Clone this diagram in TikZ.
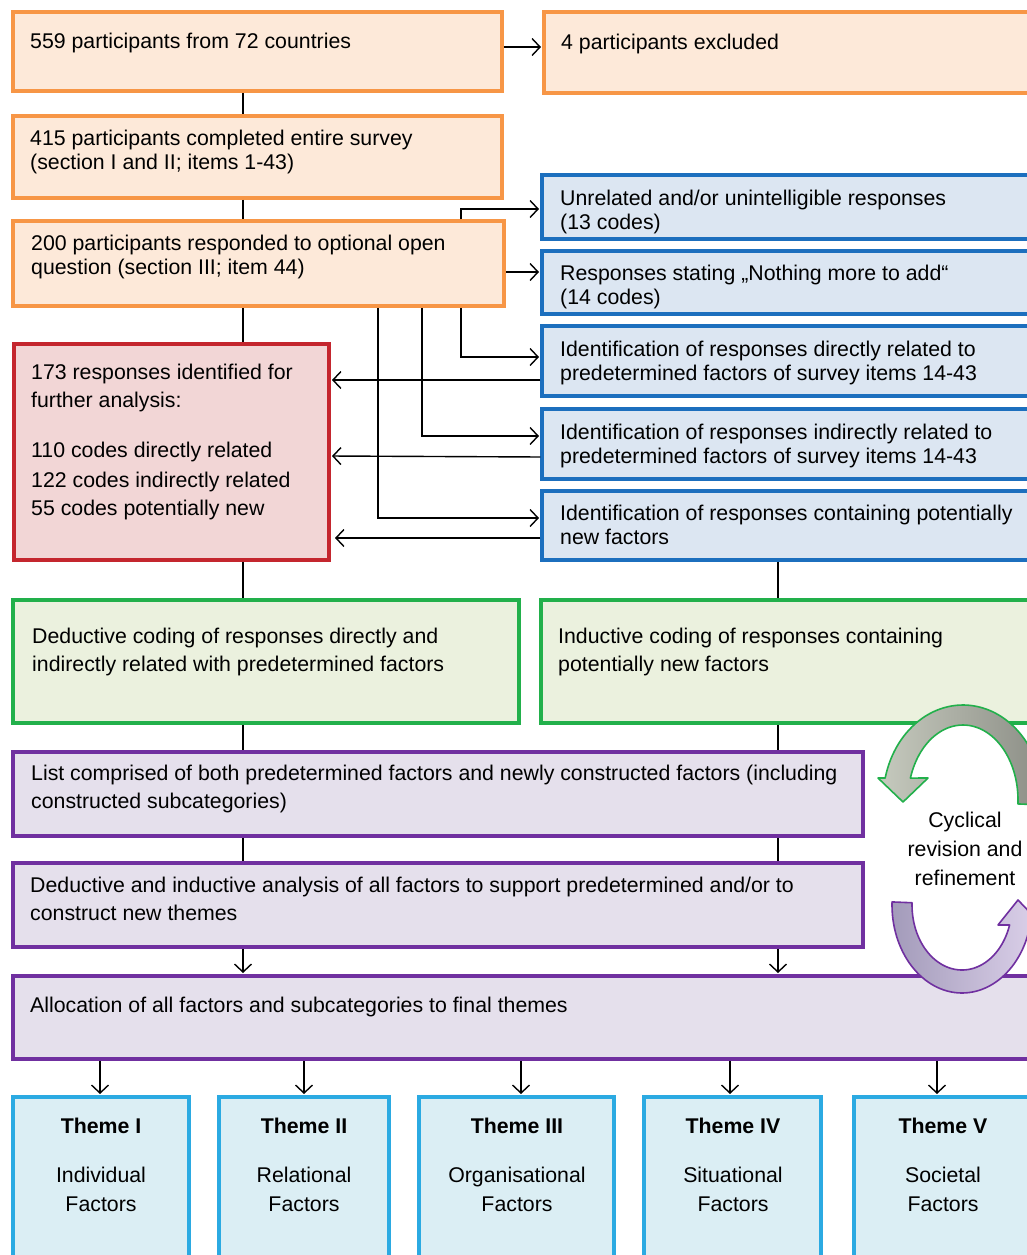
\documentclass[tikz,border=0pt]{standalone}
\usepackage{fontspec}
\setmainfont{Liberation Sans}
\usetikzlibrary{arrows.meta}
\definecolor{orB}{HTML}{F79646}
\definecolor{orF}{HTML}{FDE9D9}
\definecolor{blB}{HTML}{1C6FBE}
\definecolor{blF}{HTML}{DCE6F2}
\definecolor{rdB}{HTML}{C4262E}
\definecolor{rdF}{HTML}{F2D6D6}
\definecolor{grB}{HTML}{22B04B}
\definecolor{grF}{HTML}{EBF1DE}
\definecolor{puB}{HTML}{7030A0}
\definecolor{puF}{HTML}{E5E0EC}
\definecolor{cyB}{HTML}{2BAAE2}
\definecolor{cyF}{HTML}{DBEEF4}
\definecolor{gyL}{HTML}{C6CABE}
\definecolor{gyD}{HTML}{8C8E86}
\definecolor{ppD}{HTML}{A39BBA}
\definecolor{ppL}{HTML}{DDD2EB}
\begin{document}
\begin{tikzpicture}[x=1pt,y=-1pt,
  bx/.style={draw, line width=3.5pt, anchor=north west, inner sep=0pt, outer sep=0pt},
  obox/.style={bx, draw=orB, fill=orF},
  bbox/.style={bx, draw=blB, fill=blF},
  rbox/.style={bx, draw=rdB, fill=rdF},
  gbox/.style={bx, draw=grB, fill=grF},
  pbox/.style={bx, draw=puB, fill=puF},
  tbox/.style={bx, draw=cyB, fill=cyF},
  txt/.style={font=\fontsize{21.3}{24}\selectfont, inner sep=0pt, anchor=north west, align=left},
  txtw/.style={font=\fontsize{21.3}{28}\selectfont, inner sep=0pt, anchor=north west, align=left},
  ttxt/.style={font=\fontsize{21.3}{29}\selectfont, inner sep=0pt, anchor=base, align=center},
  conn/.style={line width=1.4pt, black, shorten <=1.75pt},
  arr/.style={conn, -{Straight Barb[length=8pt,width=17pt,line width=1.4pt]}, shorten >=3pt}
]
\useasboundingbox (0,0) rectangle (1027,1255);
\clip (0,0) rectangle (1027,1255);
\fill[white] (0,0) rectangle (1027,1255);

% boxes
\node[obox, minimum width=489pt, minimum height=79pt] (b1) at (13,12) {};
\node[obox, minimum width=501pt, minimum height=81pt] (bx) at (544,12) {};
\node[obox, minimum width=489pt, minimum height=82pt] (b2) at (13,116) {};
\node[obox, minimum width=491pt, minimum height=85pt] (b3) at (13,221) {};
\node[bbox, minimum width=503pt, minimum height=64pt] (bA) at (542,175) {};
\node[bbox, minimum width=503pt, minimum height=63pt] (bB) at (542,251) {};
\node[bbox, minimum width=503pt, minimum height=70pt] (bC) at (542,326) {};
\node[bbox, minimum width=503pt, minimum height=70pt] (bD) at (542,409) {};
\node[bbox, minimum width=503pt, minimum height=69pt] (bE) at (542,491) {};
\node[rbox, minimum width=315pt, minimum height=216pt] (rd) at (14,344) {};
\node[gbox, minimum width=506pt, minimum height=123pt] (g1) at (13,600) {};
\node[gbox, minimum width=504pt, minimum height=123pt] (g2) at (541,600) {};
\node[pbox, minimum width=850pt, minimum height=84pt] (p1) at (13,752) {};
\node[pbox, minimum width=850pt, minimum height=84pt] (p2) at (13,863) {};
\node[pbox, minimum width=1032pt, minimum height=83pt] (p3) at (13,976) {};
\node[tbox, minimum width=176pt, minimum height=180pt] (t1) at (13,1097) {};
\node[tbox, minimum width=170pt, minimum height=180pt] (t2) at (219,1097) {};
\node[tbox, minimum width=195pt, minimum height=180pt] (t3) at (419,1097) {};
\node[tbox, minimum width=177pt, minimum height=180pt] (t4) at (644,1097) {};
\node[tbox, minimum width=191pt, minimum height=180pt] (t5) at (854,1097) {};

% texts
\node[txt] (x1) at (30,31.2) {\strut 559 participants from 72 countries};
\node[txt] (xx) at (561,32.2) {\strut 4 participants excluded};
\node[txt] (x2) at (30,128.2) {\strut 415 participants completed entire survey\\(section I and II; items 1-43)};
\node[txt] (x3) at (31,233.2) {\strut 200 participants responded to optional open\\question (section III; item 44)};
\node[txt] (xA) at (560,188.2) {\strut Unrelated and/or unintelligible responses\\(13 codes)};
\node[txt] (xB) at (560,263.2) {\strut Responses stating „Nothing more to add“\\(14 codes)};
\node[txt] (xC) at (560,339.2) {\strut Identification of responses directly related to\\predetermined factors of survey items 14-43};
\node[txt] (xD) at (560,422.2) {\strut Identification of responses indirectly related to\\predetermined factors of survey items 14-43};
\node[txt] (xE) at (560,503.2) {\strut Identification of responses containing potentially\\new factors};
\node[txtw] (xr) at (31,359.4) {\strut 173 responses identified for\\further analysis:\\[22pt]110 codes directly related\\[2pt]122 codes indirectly related\\55 codes potentially new};
\node[txtw] (xg1) at (32,623.4) {\strut Deductive coding of responses directly and\\indirectly related with predetermined factors};
\node[txtw] (xg2) at (558,623.4) {\strut Inductive coding of responses containing\\potentially new factors};
\node[txtw] (xp1) at (31,760.4) {\strut List comprised of both predetermined factors and newly constructed factors (including\\constructed subcategories)};
\node[txtw] (xp2) at (30,872.4) {\strut Deductive and inductive analysis of all factors to support predetermined and/or to\\construct new themes};
\node[txt] (xp3) at (30,995.2) {\strut Allocation of all factors and subcategories to final themes};
\node[ttxt] (xt1) at (101,1211) {\textbf{Theme I}\\[20pt]Individual\\Factors};
\node[ttxt] (xt2) at (304,1211) {\textbf{Theme II}\\[20pt]Relational\\Factors};
\node[ttxt] (xt3) at (517,1211) {\textbf{Theme III}\\[20pt]Organisational\\Factors};
\node[ttxt] (xt4) at (733,1211) {\textbf{Theme IV}\\[20pt]Situational\\Factors};
\node[ttxt] (xt5) at (943,1211) {\textbf{Theme V}\\[20pt]Societal\\Factors};

% connectors
\draw[arr] (b1.east |- 0,47) -- (bx.west |- 0,47);
\draw[conn, shorten >=1.75pt] (243,0 |- b1.south) -- (243,0 |- b2.north);
\draw[conn, shorten >=1.75pt] (243,0 |- b2.south) -- (243,0 |- b3.north);
\draw[conn, shorten >=1.75pt] (243,0 |- b3.south) -- (243,0 |- rd.north);
\draw[arr] (461,0 |- b3.north) |- (bA.west |- 0,209);
\draw[arr] (b3.east |- 0,272) -- (bB.west |- 0,272);
\draw[arr] (461,0 |- b3.south) |- (bC.west |- 0,357);
\draw[arr] (422,0 |- b3.south) |- (bD.west |- 0,436);
\draw[arr] (378,0 |- b3.south) |- (bE.west |- 0,518);
\draw[arr] (bC.west |- 0,380) -- (rd.east |- 0,380);
\draw[arr] (bD.west |- 0,457) -- (rd.east |- 0,456);
\draw[arr] (bE.west |- 0,538) -- ([xshift=3pt]rd.east |- 0,538);
\draw[conn, shorten >=1.75pt] (243,0 |- rd.south) -- (243,0 |- g1.north);
\draw[conn, shorten >=1.75pt] (778,0 |- bE.south) -- (778,0 |- g2.north);
\draw[conn, shorten >=1.75pt] (243,0 |- g1.south) -- (243,0 |- p1.north);
\draw[conn, shorten >=1.75pt] (778,0 |- g2.south) -- (778,0 |- p1.north);
\draw[conn, shorten >=1.75pt] (243,0 |- p1.south) -- (243,0 |- p2.north);
\draw[conn, shorten >=1.75pt] (778,0 |- p1.south) -- (778,0 |- p2.north);
\draw[arr] (243,0 |- p2.south) -- (243,0 |- p3.north);
\draw[arr] (778,0 |- p2.south) -- (778,0 |- p3.north);
\draw[arr] (100,0 |- p3.south) -- (100,0 |- t1.north);
\draw[arr] (304,0 |- p3.south) -- (304,0 |- t2.north);
\draw[arr] (521,0 |- p3.south) -- (521,0 |- t3.north);
\draw[arr] (730,0 |- p3.south) -- (730,0 |- t4.north);
\draw[arr] (937,0 |- p3.south) -- (937,0 |- t5.north);

% cyclical arrows
\path[draw=grB, line width=1.6pt, left color=gyL, right color=gyD, line join=round]
  plot[domain=-3:166.6, samples=60] ({963+80*cos(\x)},{800-95*sin(\x)})
  -- (878,778) -- (903,802) -- (928,778)
  -- plot[domain=163:-3, samples=60] ({963+55*cos(\x)},{800-75*sin(\x)}) -- cycle;
\path[draw=puB, line width=1.6pt, left color=ppD, right color=ppL, line join=round]
  plot[domain=178:346.9, samples=60] ({962+70*cos(\x)},{905-88*sin(\x)})
  -- (1042,925) -- (1018,900) -- (998,925)
  -- plot[domain=342.1:178, samples=60] ({962+50*cos(\x)},{905-65*sin(\x)}) -- cycle;
\node[ttxt] (cyc) at (965,885) {Cyclical\\revision and\\refinement};
\end{tikzpicture}
\end{document}
